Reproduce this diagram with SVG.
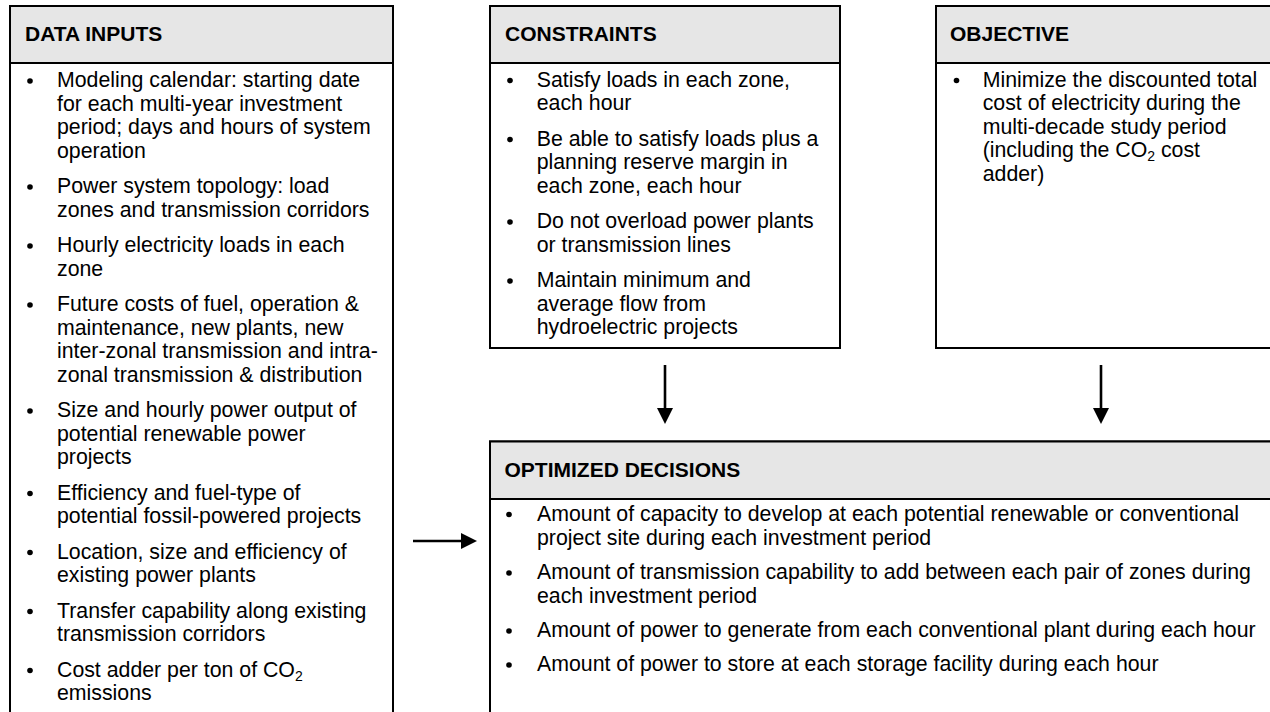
<svg xmlns="http://www.w3.org/2000/svg" width="1270" height="712" viewBox="0 0 1270 712">
  <style>
    .box { fill: #ffffff; stroke: #000000; stroke-width: 2; }
    .hdr { fill: #e6e6e6; stroke: #000000; stroke-width: 2; }
    .ht { font-family: "Liberation Sans", Arial, sans-serif; font-size: 21px; font-weight: bold; fill: #000000; }
    .bt { font-family: "Liberation Sans", Arial, sans-serif; font-size: 21.3px; fill: #000000; }
    .dot { fill: #000000; }
    .conn { stroke: #000000; stroke-width: 2.6; fill: none; }
  </style>
  <defs>
    <marker id="ah" markerUnits="userSpaceOnUse" markerWidth="16" markerHeight="16" refX="2" refY="8" orient="auto">
      <path d="M0,0 L16,8 L0,16 z" fill="#000000"/>
    </marker>
  </defs>
  <rect width="1270" height="712" fill="#ffffff"/>

  <g id="data-inputs">
    <rect class="box" x="10" y="6" width="383" height="760"/>
    <rect class="hdr" x="10" y="6" width="383" height="57"/>
    <text class="ht" x="25" y="41">DATA INPUTS</text>
    <g class="dot">
      <circle cx="30" cy="81" r="2.8"/>
      <circle cx="30" cy="187" r="2.8"/>
      <circle cx="30" cy="246" r="2.8"/>
      <circle cx="30" cy="305" r="2.8"/>
      <circle cx="30" cy="411" r="2.8"/>
      <circle cx="30" cy="493.5" r="2.8"/>
      <circle cx="30" cy="552.5" r="2.8"/>
      <circle cx="30" cy="611.5" r="2.8"/>
      <circle cx="30" cy="670.5" r="2.8"/>
    </g>
    <text class="bt">
      <tspan x="57" y="87.3">Modeling calendar: starting date</tspan>
      <tspan x="57" y="110.8">for each multi-year investment</tspan>
      <tspan x="57" y="134.3">period; days and hours of system</tspan>
      <tspan x="57" y="157.8">operation</tspan>
      <tspan x="57" y="193.3">Power system topology: load</tspan>
      <tspan x="57" y="216.8">zones and transmission corridors</tspan>
      <tspan x="57" y="252.3">Hourly electricity loads in each</tspan>
      <tspan x="57" y="275.8">zone</tspan>
      <tspan x="57" y="311.3">Future costs of fuel, operation &amp;</tspan>
      <tspan x="57" y="334.8">maintenance, new plants, new</tspan>
      <tspan x="57" y="358.3">inter-zonal transmission and intra-</tspan>
      <tspan x="57" y="381.8">zonal transmission &amp; distribution</tspan>
      <tspan x="57" y="417.3">Size and hourly power output of</tspan>
      <tspan x="57" y="440.8">potential renewable power</tspan>
      <tspan x="57" y="464.3">projects</tspan>
      <tspan x="57" y="499.8">Efficiency and fuel-type of</tspan>
      <tspan x="57" y="523.3">potential fossil-powered projects</tspan>
      <tspan x="57" y="558.8">Location, size and efficiency of</tspan>
      <tspan x="57" y="582.3">existing power plants</tspan>
      <tspan x="57" y="617.8">Transfer capability along existing</tspan>
      <tspan x="57" y="641.3">transmission corridors</tspan>
    </text>
    <text class="bt" x="57" y="676.8">Cost adder per ton of CO<tspan font-size="14px" dy="4">2</tspan></text>
    <text class="bt" x="57" y="700.3">emissions</text>
  </g>

  <g id="constraints">
    <rect class="box" x="490" y="6" width="350" height="342"/>
    <rect class="hdr" x="490" y="6" width="350" height="57"/>
    <text class="ht" x="505" y="41">CONSTRAINTS</text>
    <g class="dot">
      <circle cx="510" cy="80.5" r="2.8"/>
      <circle cx="510" cy="139.5" r="2.8"/>
      <circle cx="510" cy="222" r="2.8"/>
      <circle cx="510" cy="281" r="2.8"/>
    </g>
    <text class="bt">
      <tspan x="536.7" y="86.8">Satisfy loads in each zone,</tspan>
      <tspan x="536.7" y="110.3">each hour</tspan>
      <tspan x="536.7" y="145.8">Be able to satisfy loads plus a</tspan>
      <tspan x="536.7" y="169.3">planning reserve margin in</tspan>
      <tspan x="536.7" y="192.8">each zone, each hour</tspan>
      <tspan x="536.7" y="228.3">Do not overload power plants</tspan>
      <tspan x="536.7" y="251.8">or transmission lines</tspan>
      <tspan x="536.7" y="287.3">Maintain minimum and</tspan>
      <tspan x="536.7" y="310.8">average flow from</tspan>
      <tspan x="536.7" y="334.3">hydroelectric projects</tspan>
    </text>
  </g>

  <g id="objective">
    <rect class="box" x="936" y="6" width="340" height="342"/>
    <rect class="hdr" x="936" y="6" width="340" height="57"/>
    <text class="ht" x="950" y="41">OBJECTIVE</text>
    <circle class="dot" cx="956.5" cy="80.5" r="2.8"/>
    <text class="bt">
      <tspan x="982.7" y="86.8">Minimize the discounted total</tspan>
      <tspan x="982.7" y="110.3">cost of electricity during the</tspan>
      <tspan x="982.7" y="133.8">multi-decade study period</tspan>
    </text>
    <text class="bt" x="982.7" y="157.3">(including the CO<tspan font-size="14px" dy="4">2</tspan><tspan dy="-4"> cost</tspan></text>
    <text class="bt" x="982.7" y="180.8">adder)</text>
  </g>

  <g id="optimized-decisions">
    <rect class="box" x="490" y="441.5" width="790" height="300"/>
    <rect class="hdr" x="490" y="441.5" width="790" height="57.5"/>
    <text class="ht" x="504.5" y="476.5">OPTIMIZED DECISIONS</text>
    <g class="dot">
      <circle cx="509" cy="514.5" r="2.8"/>
      <circle cx="509" cy="573" r="2.8"/>
      <circle cx="509" cy="631" r="2.8"/>
      <circle cx="509" cy="665" r="2.8"/>
    </g>
    <text class="bt">
      <tspan x="537" y="520.5">Amount of capacity to develop at each potential renewable or conventional</tspan>
      <tspan x="537" y="545">project site during each investment period</tspan>
      <tspan x="537" y="579">Amount of transmission capability to add between each pair of zones during</tspan>
      <tspan x="537" y="603">each investment period</tspan>
      <tspan x="537" y="637">Amount of power to generate from each conventional plant during each hour</tspan>
      <tspan x="537" y="671">Amount of power to store at each storage facility during each hour</tspan>
    </text>
  </g>

  <g id="connectors">
    <line class="conn" x1="413" y1="541" x2="463" y2="541" marker-end="url(#ah)"/>
    <line class="conn" x1="665" y1="365" x2="665" y2="410" marker-end="url(#ah)"/>
    <line class="conn" x1="1101" y1="365" x2="1101" y2="410" marker-end="url(#ah)"/>
  </g>
</svg>
